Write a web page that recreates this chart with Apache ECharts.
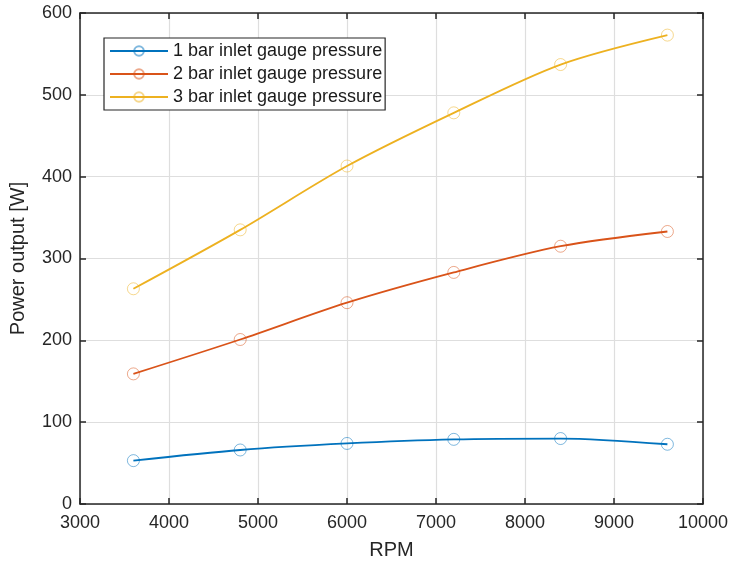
<!DOCTYPE html>
<html>
<head>
<meta charset="utf-8">
<script src="https://cdn.jsdelivr.net/npm/echarts@6/dist/echarts.min.js"></script>
<style>
html, body { margin: 0; padding: 0; background: #fff; }
#chart { width: 732px; height: 567px; }
</style>
</head>
<body>
<div id="chart"></div>
<script>
// RPM values where the measurements were taken
const rpm = [3600, 4800, 6000, 7200, 8400, 9600];
// power output [W] for each inlet gauge pressure
const bar1 = [53, 66, 74, 79, 80, 73];
const bar2 = [159, 201, 246, 283, 315, 333];
const bar3 = [263, 335, 413, 478, 537, 573];
const seriesNames = ['1 bar inlet gauge pressure', '2 bar inlet gauge pressure', '3 bar inlet gauge pressure'];
const colors = ['#0072BD', '#D95319', '#EDB120'];

const font = 'Liberation Sans, Arial, sans-serif';
const frame = '#262626';

function pairs(ys) {
    return rpm.map((x, i) => [x, ys[i]]);
}

function makeSeries(name, ys, c) {
    return {
        name: name,
        type: 'line',
        data: pairs(ys),
        smooth: 0.3,
        symbol: 'circle',
        symbolSize: 12,
        showSymbol: true,
        lineStyle: { color: c, width: 1.8 },
        itemStyle: { color: 'rgba(255,255,255,0)', borderColor: c, borderWidth: 1, opacity: 0.5 },
        emphasis: { disabled: true },
        z: 3
    };
}

let myChart = echarts.init(document.getElementById('chart'));
let option = {
    animation: false,
    backgroundColor: '#fff',
    textStyle: { fontFamily: font },
    grid: { left: 80, right: 29, top: 13, bottom: 63, show: false },
    legend: {
        left: 104, top: 38,
        orient: 'vertical',
        data: seriesNames,
        backgroundColor: '#fff',
        borderColor: frame,
        borderWidth: 1.2,
        borderRadius: 0,
        padding: [4, 3, 4, 5],
        itemWidth: 58,
        itemHeight: 12,
        itemGap: 5,
        textStyle: { fontFamily: font, fontSize: 18, color: '#1a1a1a', padding: [0, 0, 0, 0] }
    },
    xAxis: [
        {
            type: 'value', min: 3000, max: 10000, interval: 1000,
            name: 'RPM', nameLocation: 'middle', nameGap: 36,
            nameTextStyle: { fontFamily: font, fontSize: 20, color: '#262626' },
            axisLine: { show: true, onZero: false, lineStyle: { color: frame, width: 1.5 } },
            axisTick: { show: true, inside: true, length: 6, lineStyle: { color: frame, width: 1.5 } },
            axisLabel: { fontFamily: font, fontSize: 18, color: '#262626', margin: 10, formatter: v => String(v) },
            splitLine: { show: true, lineStyle: { color: '#dedede', width: 1.2 } }
        },
        {
            type: 'value', min: 3000, max: 10000, interval: 1000, position: 'top',
            axisLine: { show: true, onZero: false, lineStyle: { color: frame, width: 1.5 } },
            axisTick: { show: true, inside: true, length: 6, lineStyle: { color: frame, width: 1.5 } },
            axisLabel: { show: false },
            splitLine: { show: false }
        }
    ],
    yAxis: [
        {
            type: 'value', min: 0, max: 600, interval: 100,
            name: 'Power output [W]', nameLocation: 'middle', nameGap: 52,
            nameTextStyle: { fontFamily: font, fontSize: 20, color: '#262626' },
            axisLine: { show: true, onZero: false, lineStyle: { color: frame, width: 1.5 } },
            axisTick: { show: true, inside: true, length: 6, lineStyle: { color: frame, width: 1.5 } },
            axisLabel: { fontFamily: font, fontSize: 18, color: '#262626', margin: 8 },
            splitLine: { show: true, lineStyle: { color: '#dedede', width: 1.2 } }
        },
        {
            type: 'value', min: 0, max: 600, interval: 100, position: 'right',
            axisLine: { show: true, onZero: false, lineStyle: { color: frame, width: 1.5 } },
            axisTick: { show: true, inside: true, length: 6, lineStyle: { color: frame, width: 1.5 } },
            axisLabel: { show: false },
            splitLine: { show: false }
        }
    ],
    series: [
        makeSeries(seriesNames[0], bar1, colors[0]),
        makeSeries(seriesNames[1], bar2, colors[1]),
        makeSeries(seriesNames[2], bar3, colors[2])
    ]
};
myChart.setOption(option);
</script>
</body>
</html>
